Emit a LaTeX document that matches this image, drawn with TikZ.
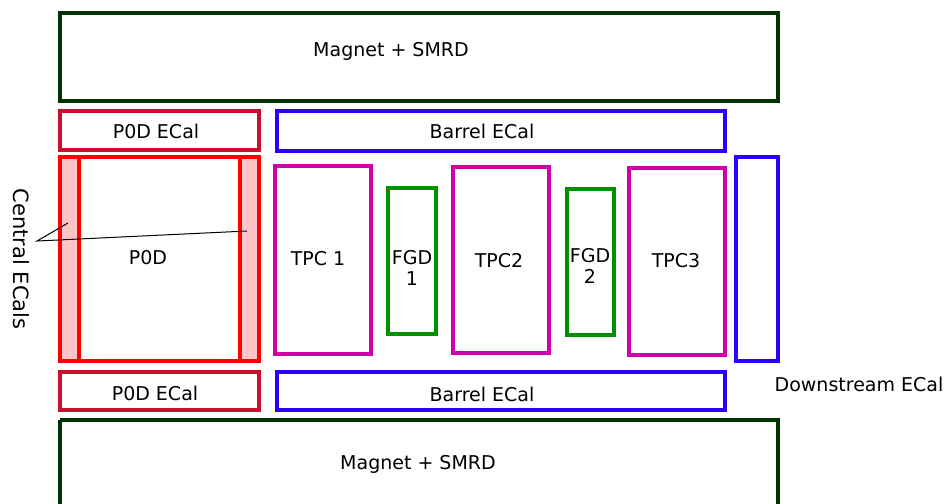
\documentclass[tikz,border=0pt]{standalone}
\usepackage{fontspec}
\setmainfont{DejaVu Sans}
\begin{document}
\begin{tikzpicture}[x=1pt,y=-1pt,
  box/.style={draw,line width=4pt},
  lbl/.style={font=\fontsize{19}{21}\selectfont,inner sep=0pt,align=center}]
\definecolor{mag}{HTML}{003300}
\definecolor{pecal}{HTML}{C8102E}
\definecolor{barrel}{HTML}{2A00FF}
\definecolor{tpc}{HTML}{D000A8}
\definecolor{fgd}{HTML}{009000}
\definecolor{pink}{HTML}{FFC4C8}
\useasboundingbox (0,0) rectangle (947,503);
% magnets
\draw[box,mag] (60,13) rectangle (778,101);
\node[lbl] (magT) at (391,51) {Magnet + SMRD};
\draw[box,mag] (60,420) -- (60,510) (60,420) -- (778,420) -- (778,510);
\node[lbl] (magB) at (418,464) {Magnet + SMRD};
% P0D ECals
\draw[box,pecal] (60,111) rectangle (259,150);
\node[lbl] (pecT) at (156,131) {P0D ECal};
\draw[box,pecal] (60,372) rectangle (259,410);
\node[lbl] (pecB) at (155,393) {P0D ECal};
% Barrel ECals
\draw[box,barrel] (277,111) rectangle (725,151);
\node[lbl] (barT) at (482,131) {Barrel ECal};
\draw[box,barrel] (277,372) rectangle (725,410);
\node[lbl] (barB) at (482,394) {Barrel ECal};
% P0D
\fill[pink] (60,157) rectangle (79,361);
\fill[pink] (240,157) rectangle (259,361);
\draw[box,red] (60,157) rectangle (259,361);
\draw[box,red] (79,157) -- (79,361);
\draw[box,red] (240,157) -- (240,361);
\node[lbl] (pod) at (148,258) {P0D};
% central ecal label
\node[lbl,font=\fontsize{21}{23}\selectfont,rotate=-90] (cec) at (21,259) {Central ECals};
\coordinate (cj) at (37,241);
\coordinate (ceL) at (68,223);
\coordinate (ceR) at (247,231);
\draw[black,line width=1pt] (ceL) -- (cj) -- (ceR);
% TPCs
\draw[box,tpc] (275,166) rectangle (371,354);
\node[lbl] (tpc1) at (318,259) {TPC 1};
\draw[box,tpc] (453,167) rectangle (549,353);
\node[lbl] (tpc2) at (499,261) {TPC2};
\draw[box,tpc] (629,168) rectangle (725,355);
\node[lbl] (tpc3) at (676,261) {TPC3};
% FGDs
\draw[box,fgd] (388,188) rectangle (436,334);
\node[lbl] (fgd1) at (412,268) {FGD\\1};
\draw[box,fgd] (567,189) rectangle (614,335);
\node[lbl] (fgd2) at (590,266) {FGD\\2};
% downstream ecal
\draw[box,barrel] (736,157) rectangle (778,361);
\node[lbl] (ds) at (859,384) {Downstream ECal};
\end{tikzpicture}
\end{document}
